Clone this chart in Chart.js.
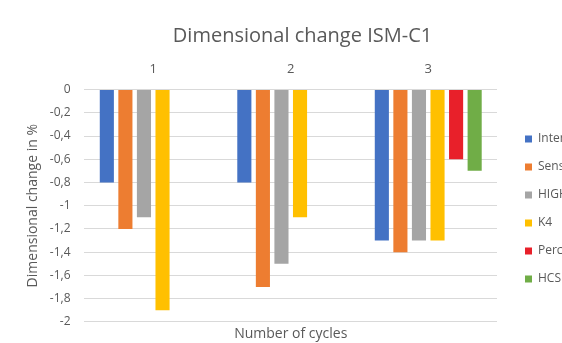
<!DOCTYPE html>
<html>
<head>
<meta charset="utf-8">
<script src="https://cdn.jsdelivr.net/npm/chart.js@4/dist/chart.umd.min.js"></script>
<style>
  html, body { margin: 0; padding: 0; background: #fff; overflow: hidden; }
  #wrap { width: 562px; height: 343px; }
</style>
</head>
<body>
<div id="wrap"><canvas id="dimChart"></canvas></div>
<script>
const cycles = ["1", "2", "3"];
const seriesNames = ["Inter", "Sens", "HIGH", "K4", "Perc", "HCS"];
const interValues = [-0.8, -0.8, -1.3];
const sensValues = [-1.2, -1.7, -1.4];
const highValues = [-1.1, -1.5, -1.3];
const k4Values = [-1.9, -1.1, -1.3];
const percValues = [null, null, -0.6];
const hcsValues = [null, null, -0.7];
const colors = ["#4472C4", "#ED7D31", "#A5A5A5", "#FFC000", "#E8202A", "#70AD47"];

const allValues = [interValues, sensValues, highValues, k4Values, percValues, hcsValues];
const textGray = "#595959";
const font = "Open Sans";

const ctx = document.getElementById("dimChart");

// fixed legend width, and nudge the legend items to the right after layout
const legendPlace = {
  id: "legendPlace",
  beforeInit(chart) {
    const fit = chart.legend.fit;
    chart.legend.fit = function () {
      fit.call(this);
      this.width = 83;
    };
  },
  afterLayout(chart) {
    chart.legend.left += 12;
    chart.legend.right += 12;
  },
};

const chart = new Chart(ctx, {
  type: "bar",
  data: {
    labels: cycles,
    datasets: allValues.map((vals, i) => ({
      label: seriesNames[i],
      data: vals,
      backgroundColor: colors[i],
      borderWidth: 0,
      categoryPercentage: 0.81,
      barPercentage: 0.76,
      xAxisID: "x",
    })),
  },
  options: {
    responsive: true,
    maintainAspectRatio: false,
    animation: false,
    layout: { padding: { top: 20, left: 25, right: -18, bottom: -3 } },
    plugins: {
      title: {
        display: true,
        text: "Dimensional change ISM-C1",
        color: textGray,
        font: { family: font, size: 20, weight: "normal" },
        padding: { top: 4, bottom: 8 },
      },
      legend: {
        position: "right",
        title: { display: true, text: "", padding: { top: 40, bottom: 0 }, font: { size: 10 } },
        labels: {
          boxWidth: 7,
          boxHeight: 7,
          padding: 16,
          color: textGray,
          font: { family: font, size: 12 },
        },
      },
      tooltip: { enabled: false },
    },
    scales: {
      x: {
        position: "top",
        grid: { display: false },
        border: { display: false },
        ticks: { color: textGray, font: { family: font, size: 13 }, padding: 5 },
      },
      x2: {
        type: "category",
        labels: cycles,
        position: "bottom",
        grid: { display: false },
        border: { display: false },
        ticks: { display: false },
        title: {
          display: true,
          text: "Number of cycles",
          color: textGray,
          font: { family: font, size: 14 },
          padding: { top: -3.7, bottom: -4.4 },
        },
      },
      y: {
        min: -2,
        max: 0,
        ticks: {
          stepSize: 0.2,
          color: textGray,
          font: { family: font, size: 12 },
          padding: 14,
          callback: (v) => (Math.round(v * 10) / 10).toString().replace(".", ","),
        },
        grid: { color: "#D9D9D9", drawTicks: false },
        border: { display: false },
        title: {
          display: true,
          text: "Dimensional change in %",
          color: textGray,
          font: { family: font, size: 14 },
          padding: { top: 0, bottom: -6 },
        },
      },
    },
  },
  plugins: [legendPlace],
});
</script>
</body>
</html>
